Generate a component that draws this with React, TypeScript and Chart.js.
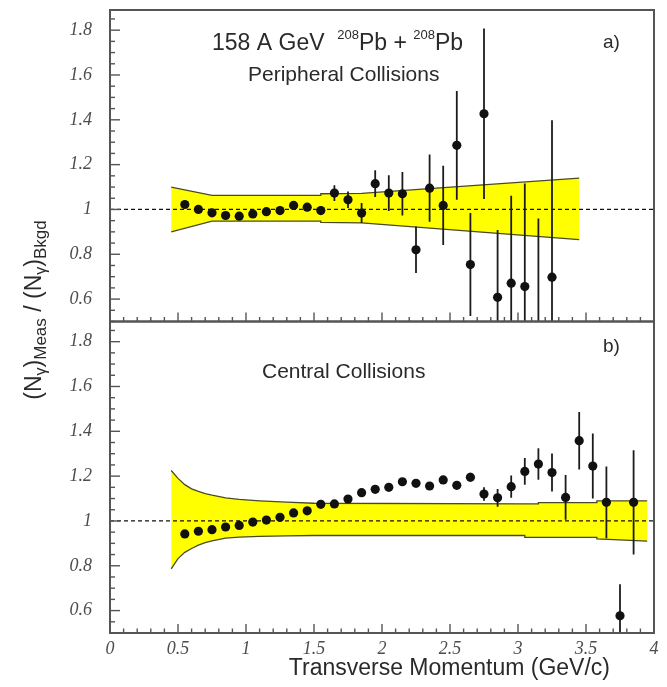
import React, { useEffect, useRef } from 'react';
import { Chart, registerables } from 'chart.js';

Chart.register(...registerables);

// Axis ranges shared by both panels
const X_MIN = 0;
const X_MAX = 4;
const Y_MIN = 0.5;
const Y_MAX = 1.89;

const xTickValues = [0, 0.5, 1, 1.5, 2, 2.5, 3, 3.5, 4];
const yTickValues = [0.6, 0.8, 1.0, 1.2, 1.4, 1.6, 1.8];

// Panel a) peripheral collisions
const peripheralPt = [
  0.55, 0.65, 0.75, 0.85, 0.95, 1.05, 1.15, 1.25, 1.35, 1.45, 1.55, 1.65, 1.75, 1.85,
  1.95, 2.05, 2.15, 2.25, 2.35, 2.45, 2.55, 2.65, 2.75, 2.85, 2.95, 3.05, 3.15, 3.25,
];
const peripheralRatio = [
  1.022, 1.0, 0.985, 0.973, 0.97, 0.98, 0.99, 0.995, 1.018, 1.01, 0.995, 1.073, 1.043, 0.984,
  1.115, 1.073, 1.07, 0.82, 1.095, 1.018, 1.286, 0.754, 1.427, 0.608, 0.671, 0.656, 0.42, 0.698,
];
const peripheralErr = [
  0.01, 0.01, 0.01, 0.01, 0.01, 0.01, 0.01, 0.01, 0.012, 0.014, 0.02, 0.035, 0.037, 0.045,
  0.06, 0.08, 0.097, 0.104, 0.15, 0.177, 0.243, 0.23, 0.38, 0.3, 0.39, 0.46, 0.54, 0.7,
];
// Systematic band, panel a)
const peripheralBandPt = [0.45, 0.75, 1.55, 1.55, 1.85, 3.45];
const peripheralBandHigh = [1.1, 1.063, 1.063, 1.07, 1.072, 1.14];
const peripheralBandLow = [0.9, 0.948, 0.948, 0.942, 0.94, 0.865];

// Panel b) central collisions
const centralPt = [
  0.55, 0.65, 0.75, 0.85, 0.95, 1.05, 1.15, 1.25, 1.35, 1.45, 1.55, 1.65, 1.75, 1.85, 1.95,
  2.05, 2.15, 2.25, 2.35, 2.45, 2.55, 2.65, 2.75, 2.85, 2.95, 3.05, 3.15, 3.25, 3.35, 3.45,
  3.55, 3.65, 3.75, 3.85,
];
const centralRatio = [
  0.942, 0.954, 0.961, 0.973, 0.98, 0.995, 1.004, 1.016, 1.036, 1.045, 1.074, 1.076, 1.098, 1.126, 1.141,
  1.15, 1.175, 1.168, 1.156, 1.183, 1.159, 1.195, 1.12, 1.103, 1.153, 1.221, 1.254, 1.216, 1.105, 1.358,
  1.245, 1.083, 0.577, 1.083,
];
const centralErr = [
  0.005, 0.005, 0.005, 0.005, 0.005, 0.005, 0.005, 0.005, 0.005, 0.005, 0.006, 0.007, 0.008, 0.009, 0.01,
  0.01, 0.011, 0.012, 0.013, 0.014, 0.016, 0.02, 0.03, 0.04, 0.05, 0.06, 0.07, 0.085, 0.1, 0.128,
  0.145, 0.16, 0.14, 0.233,
];
// Systematic band, panel b)
const centralBandPt = [
  0.45, 0.5, 0.55, 0.6, 0.65, 0.7, 0.75, 0.85, 0.95, 1.1, 1.3, 1.5, 3.05, 3.05, 3.15, 3.15, 3.58, 3.58, 3.95,
];
const centralBandHigh = [
  1.225, 1.19, 1.162, 1.143, 1.132, 1.122, 1.115, 1.103, 1.096, 1.09, 1.084, 1.079, 1.076, 1.076, 1.076, 1.082,
  1.082, 1.09, 1.09,
];
const centralBandLow = [
  0.786, 0.832, 0.86, 0.877, 0.892, 0.903, 0.911, 0.923, 0.928, 0.931, 0.933, 0.935, 0.935, 0.927, 0.927, 0.927,
  0.927, 0.92, 0.91,
];

const SANS = "'Liberation Sans', Arial, Helvetica, sans-serif";
const SERIF = "'Liberation Serif', 'Times New Roman', serif";
const TEXT_COLOR = '#2a2a2a';
const FRAME_COLOR = '#555555';
const BAND_FILL = '#ffff00';
const BAND_EDGE = '#4a4a2a';

const toPoints = (xs: number[], ys: number[]) => xs.map((x, i) => ({ x, y: ys[i] }));

type Part = { t: string; size: number; shift?: number };

function drawParts(ctx: CanvasRenderingContext2D, parts: Part[], x: number, y: number, align: 'left' | 'center') {
  let total = 0;
  parts.forEach((p) => {
    ctx.font = `${p.size}px ${SANS}`;
    total += ctx.measureText(p.t).width;
  });
  let cx = align === 'center' ? x - total / 2 : x;
  ctx.textAlign = 'left';
  ctx.textBaseline = 'alphabetic';
  parts.forEach((p) => {
    ctx.font = `${p.size}px ${SANS}`;
    ctx.fillText(p.t, cx, y + (p.shift || 0));
    cx += ctx.measureText(p.t).width;
  });
}

const decorPlugin = {
  id: 'panelDecor',
  beforeDatasetDraw(chart: any, args: any) {
    const ctx: CanvasRenderingContext2D = chart.ctx;
    const meta = args.meta;
    const ys = meta.yScale;
    const ca = chart.chartArea;
    ctx.save();
    ctx.beginPath();
    ctx.rect(ca.left, ys.top, ca.right - ca.left, ys.bottom - ys.top);
    ctx.clip();
    const ds = chart.data.datasets[args.index];
    if (ds.errors) {
      ctx.strokeStyle = '#1c1c1c';
      ctx.lineWidth = 1.8;
      ds.data.forEach((p: { x: number; y: number }, i: number) => {
        const e = ds.errors[i];
        const px = meta.xScale.getPixelForValue(p.x);
        ctx.beginPath();
        ctx.moveTo(px, ys.getPixelForValue(p.y - e));
        ctx.lineTo(px, ys.getPixelForValue(p.y + e));
        ctx.stroke();
      });
    }
  },
  afterDatasetDraw(chart: any) {
    chart.ctx.restore();
  },
  afterDraw(chart: any) {
    const ctx: CanvasRenderingContext2D = chart.ctx;
    const ca = chart.chartArea;
    const xs = chart.scales.x;
    ctx.save();

    // frames and inward ticks for each panel
    ['yTop', 'yBot'].forEach((id) => {
      const ys = chart.scales[id];
      ctx.strokeStyle = FRAME_COLOR;
      ctx.lineWidth = 1.4;
      for (let k = 10; k <= 37; k++) {
        const v = k * 0.05;
        const py = ys.getPixelForValue(v);
        const len = k % 4 === 0 ? 10 : 5;
        ctx.beginPath();
        ctx.moveTo(ca.left, py);
        ctx.lineTo(ca.left + len, py);
        ctx.stroke();
      }
      for (let k = 0; k <= 40; k++) {
        const px = xs.getPixelForValue(k * 0.1);
        const len = k % 5 === 0 ? 9 : 4.5;
        ctx.beginPath();
        ctx.moveTo(px, ys.bottom);
        ctx.lineTo(px, ys.bottom - len);
        ctx.stroke();
      }
      ctx.lineWidth = 2;
      ctx.strokeRect(ca.left, ys.top, ca.right - ca.left, ys.bottom - ys.top);
    });

    ctx.fillStyle = TEXT_COLOR;
    // panel a) annotations
    drawParts(ctx, [
      { t: '158 A GeV  ', size: 23 },
      { t: '208', size: 13, shift: -11 },
      { t: 'Pb + ', size: 23 },
      { t: '208', size: 13, shift: -11 },
      { t: 'Pb', size: 23 },
    ], 212, 50, 'left');
    drawParts(ctx, [{ t: 'Peripheral Collisions', size: 21 }], 248, 81, 'left');
    drawParts(ctx, [{ t: 'a)', size: 19 }], 603, 48, 'left');

    // panel b) annotations
    drawParts(ctx, [{ t: 'Central Collisions', size: 21 }], 262, 378, 'left');
    drawParts(ctx, [{ t: 'b)', size: 19 }], 603, 352, 'left');

    // x axis title
    ctx.font = `23px ${SANS}`;
    ctx.textAlign = 'right';
    ctx.textBaseline = 'alphabetic';
    ctx.fillText('Transverse Momentum (GeV/c)', 610, 675);

    // y axis title, rotated
    ctx.save();
    ctx.translate(41, 310);
    ctx.rotate(-Math.PI / 2);
    drawParts(ctx, [
      { t: '(N', size: 23 },
      { t: 'γ', size: 16, shift: 5 },
      { t: ')', size: 23 },
      { t: 'Meas', size: 17, shift: 5 },
      { t: ' / ', size: 23 },
      { t: '(N', size: 23 },
      { t: 'γ', size: 16, shift: 5 },
      { t: ')', size: 23 },
      { t: 'Bkgd', size: 17, shift: 5 },
    ], 0, 0, 'center');
    ctx.restore();

    ctx.restore();
  },
};

function yScale(tickPadding: number) {
  return {
    type: 'linear' as const,
    position: 'left' as const,
    stack: 'panels',
    stackWeight: 1,
    min: Y_MIN,
    max: Y_MAX,
    grid: { display: false, drawTicks: false },
    border: { display: false },
    ticks: {
      padding: tickPadding,
      color: '#4d4d4d',
      font: { family: SERIF, size: 18, style: 'italic' as const },
      callback: (v: number | string) => String(Number(v)),
    },
    afterBuildTicks: (scale: any) => {
      scale.ticks = yTickValues.map((value) => ({ value }));
    },
    afterFit: (scale: any) => {
      scale.width = 110;
      scale.paddingTop = 0;
      scale.paddingBottom = 0;
    },
  };
}

export default function App() {
  const canvasRef = useRef<HTMLCanvasElement | null>(null);

  useEffect(() => {
    const canvas = canvasRef.current;
    if (!canvas) return;

    const bandLine = (pts: number[], vals: number[], axis: string, fill: any) => ({
      type: 'line' as const,
      data: toPoints(pts, vals),
      yAxisID: axis,
      borderColor: BAND_EDGE,
      borderWidth: 1.3,
      backgroundColor: BAND_FILL,
      pointRadius: 0,
      fill,
      order: 3,
    });
    const unityLine = (axis: string) => ({
      type: 'line' as const,
      data: [
        { x: X_MIN, y: 1 },
        { x: X_MAX, y: 1 },
      ],
      yAxisID: axis,
      borderColor: '#111111',
      borderWidth: 1.3,
      borderDash: [4, 3],
      pointRadius: 0,
      fill: false,
      order: 2,
    });
    const markers = (pts: number[], vals: number[], errs: number[], axis: string) => ({
      type: 'line' as const,
      data: toPoints(pts, vals),
      errors: errs,
      yAxisID: axis,
      showLine: false,
      pointRadius: 4.6,
      pointBackgroundColor: '#111111',
      pointBorderWidth: 0,
      order: 0,
    });

    const chart = new Chart(canvas, {
      type: 'line',
      data: {
        datasets: [
          markers(peripheralPt, peripheralRatio, peripheralErr, 'yTop'),
          markers(centralPt, centralRatio, centralErr, 'yBot'),
          unityLine('yTop'),
          unityLine('yBot'),
          bandLine(peripheralBandPt, peripheralBandHigh, 'yTop', false),
          bandLine(peripheralBandPt, peripheralBandLow, 'yTop', '-1'),
          bandLine(centralBandPt, centralBandHigh, 'yBot', false),
          bandLine(centralBandPt, centralBandLow, 'yBot', '-1'),
        ] as any,
      },
      options: {
        animation: false,
        responsive: false,
        devicePixelRatio: 1,
        layout: { padding: { left: 0, right: 13, top: 10, bottom: 0 } },
        plugins: {
          legend: { display: false },
          tooltip: { enabled: false },
          filler: { drawTime: 'beforeDatasetsDraw' },
        },
        scales: {
          x: {
            type: 'linear',
            position: 'bottom',
            min: X_MIN,
            max: X_MAX,
            grid: { display: false, drawTicks: false },
            border: { display: false },
            ticks: {
              padding: 5,
              color: '#4d4d4d',
              maxRotation: 0,
              font: { family: SERIF, size: 18, style: 'italic' },
              callback: (v: number | string) => String(Number(v)),
            },
            afterBuildTicks: (scale: any) => {
              scale.ticks = xTickValues.map((value) => ({ value }));
            },
            afterFit: (scale: any) => {
              scale.height = 54;
              scale.paddingLeft = 0;
              scale.paddingRight = 0;
            },
          },
          yBot: yScale(18),
          yTop: yScale(18),
        } as any,
      },
      plugins: [decorPlugin],
    });

    return () => chart.destroy();
  }, []);

  return (
    <div style={{ position: 'fixed', left: 0, top: 0, width: 667, height: 687, background: '#ffffff' }}>
      <canvas ref={canvasRef} width={667} height={687} style={{ display: 'block' }} />
    </div>
  );
}
